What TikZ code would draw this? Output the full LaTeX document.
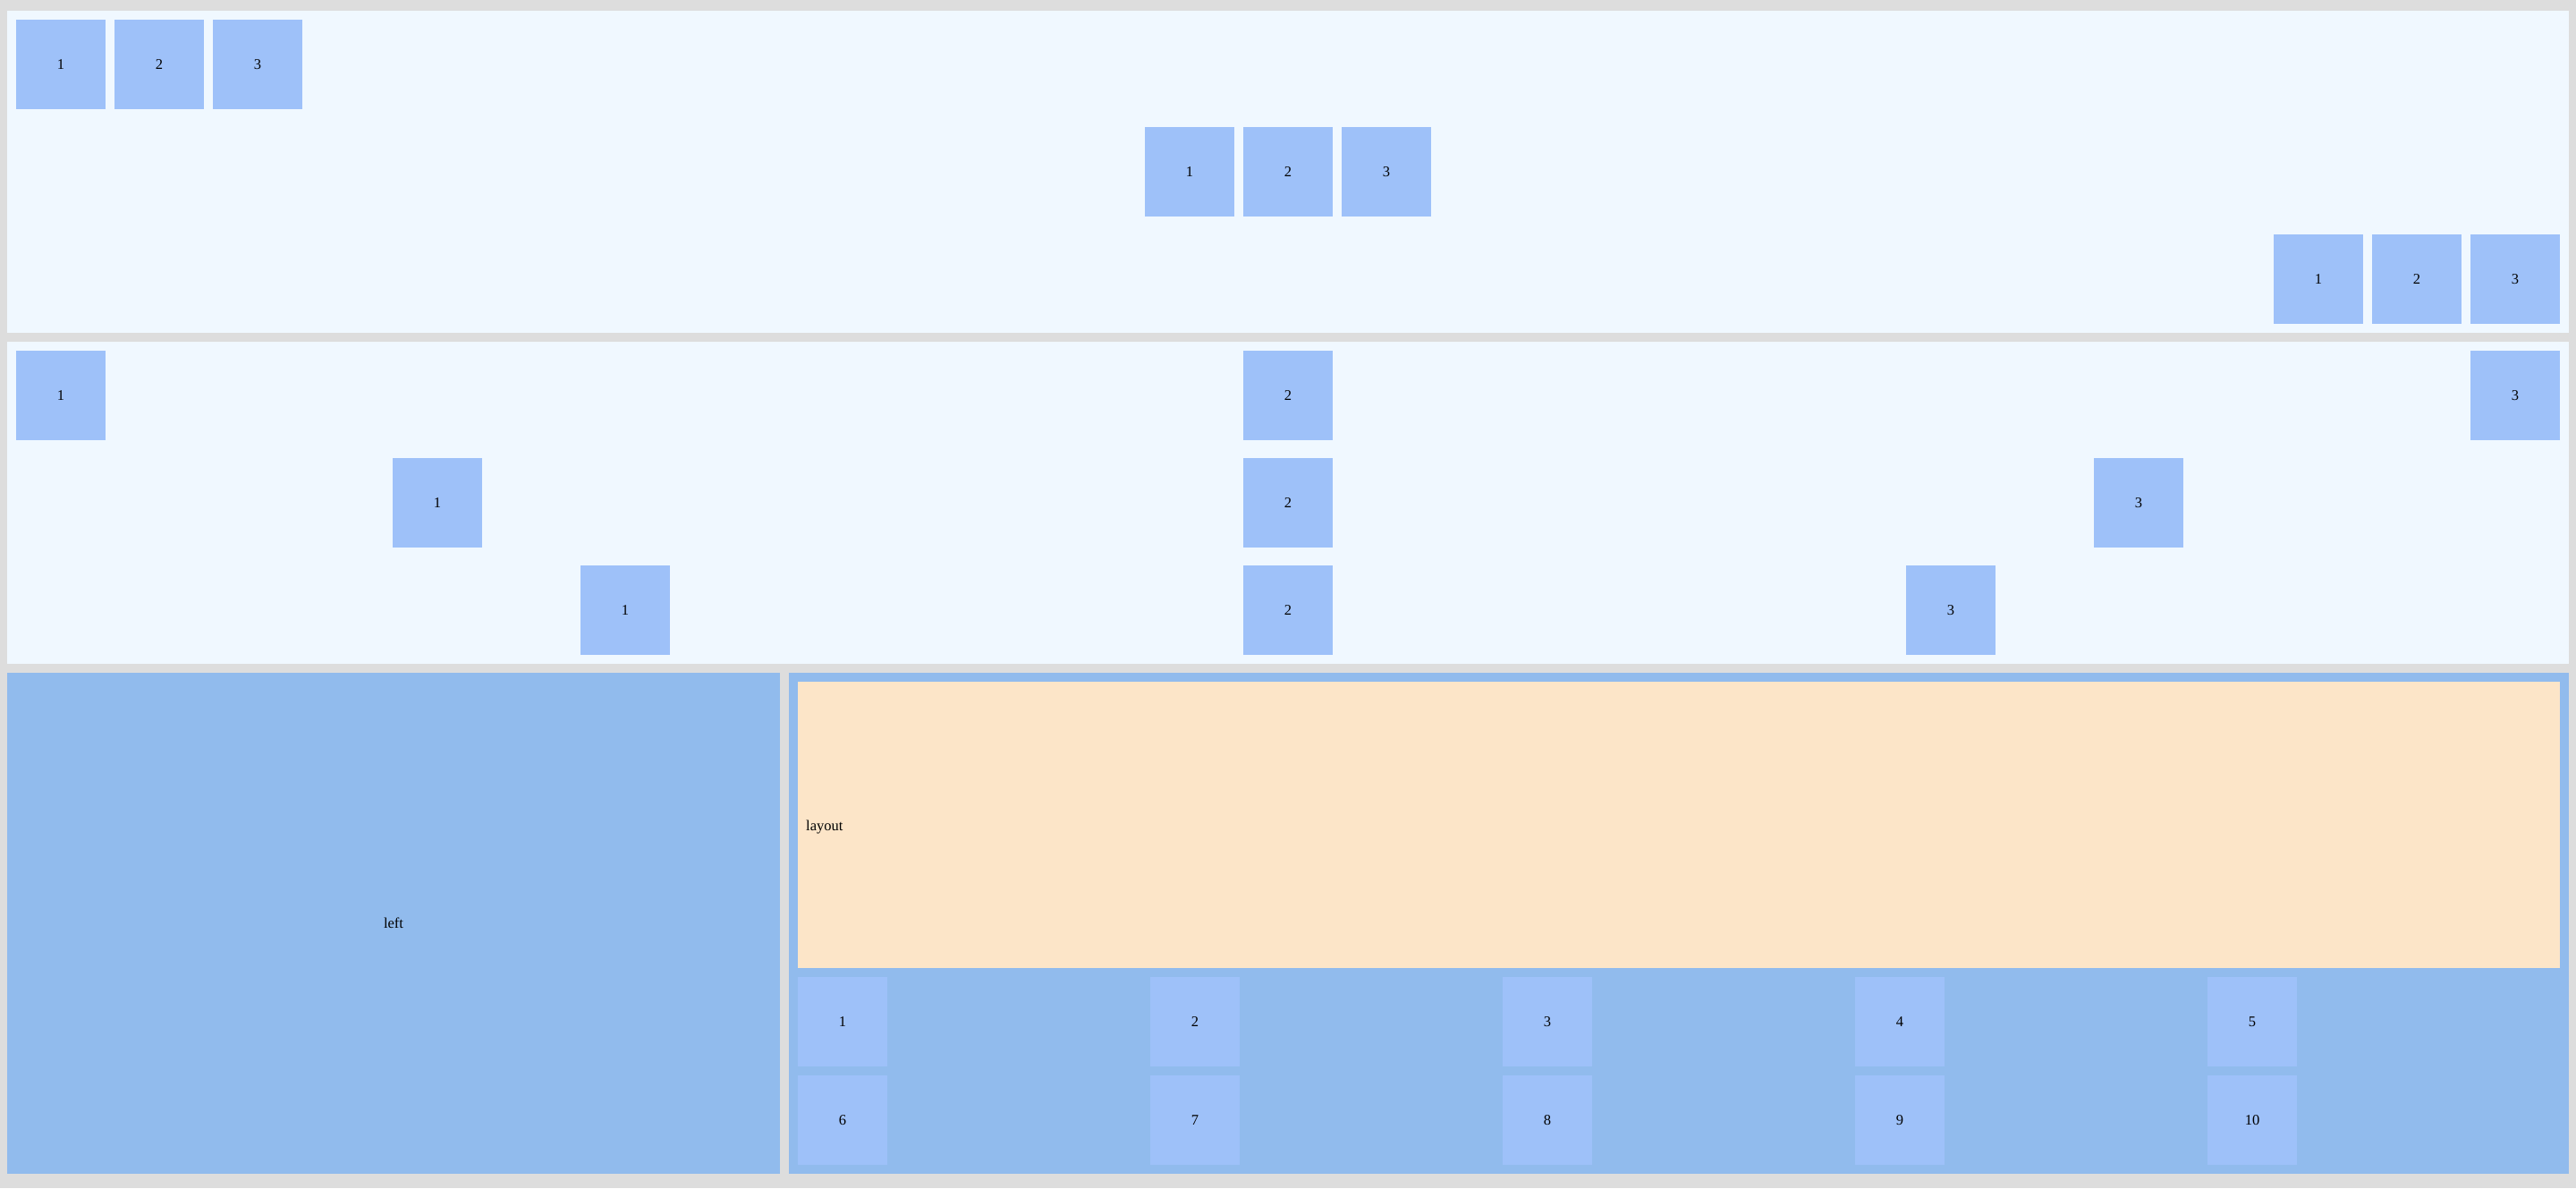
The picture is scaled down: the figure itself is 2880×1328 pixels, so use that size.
\documentclass[tikz,border=0pt]{standalone}
\usepackage{fontspec}
\setmainfont{Liberation Serif}
\usetikzlibrary{positioning}
\definecolor{pagegray}{HTML}{DDDDDD}
\definecolor{rowbg}{HTML}{F0F8FF}
\definecolor{itemblue}{HTML}{9EC1F9}
\definecolor{panelblue}{HTML}{91BBED}
\definecolor{layoutbg}{HTML}{FCE5C8}

\begin{document}
\begin{tikzpicture}[
    x=1pt, y=-1pt,
    txt/.style={font=\fontsize{16.5}{19}\selectfont},
    item/.style={txt, fill=itemblue, minimum width=100pt, minimum height=100pt, inner sep=0pt},
    row/.style={fill=rowbg},
    panel/.style={fill=panelblue},
]
% === Page ===
\fill[pagegray] (0,0) rectangle (2880,1328);
\useasboundingbox (0,0) rectangle (2880,1328);
% === TOP CONTAINER: start / center / end ===
\fill[row] (8,12) rectangle (2872,372);
\foreach \i in {1,2,3} {
    \node[item] (s\i) at (-42+\i*110, 72) {\i};
    \node[item] (c\i) at (1220+\i*110, 192) {\i};
    \node[item] (e\i) at (2482+\i*110, 312) {\i};
}
% === MIDDLE CONTAINER: between / around / evenly ===
\fill[row] (8,382) rectangle (2872,742);
\foreach \i/\x in {1/68, 2/1440, 3/2812} {
    \node[item] (b\i) at (\x, 442) {\i};
}
\foreach \i/\x in {1/489, 2/1440, 3/2391} {
    \node[item] (a\i) at (\x, 562) {\i};
}
\foreach \i/\x in {1/699, 2/1440, 3/2181} {
    \node[item] (v\i) at (\x, 682) {\i};
}
% === BOTTOM: left panel + right panel ===
\fill[panel] (8,752) rectangle (872,1312);
\node[txt] (left) at (440,1032) {left};
\fill[panel] (882,752) rectangle (2872,1312);
\fill[layoutbg] (892,762) rectangle (2862,1082);
\node[txt, anchor=west, inner sep=0pt] (layout) at (901,925) {layout};
% grid of ten
\foreach \i in {1,...,5} {
    \pgfmathtruncatemacro{\j}{\i+5}
    \node[item] (g\i) at (548+\i*394, 1142) {\i};
    \node[item] (g\j) at (548+\i*394, 1252) {\j};
}
\end{tikzpicture}
\end{document}
